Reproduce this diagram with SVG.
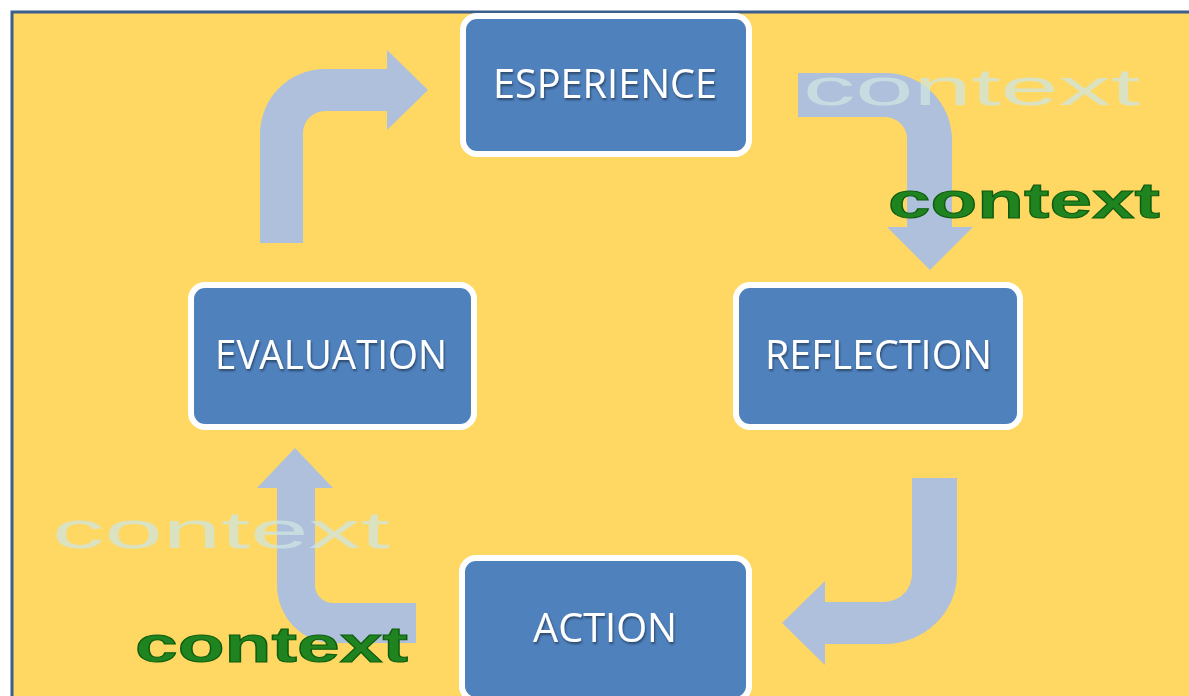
<svg xmlns="http://www.w3.org/2000/svg" width="1189" height="696" viewBox="0 0 1189 696">
<defs>
<style>
.node rect{fill:#4f81bd;stroke:#ffffff;stroke-width:6}
.node text{fill:#ffffff;font-family:"Open Sans","Liberation Sans",sans-serif;font-size:41px;text-anchor:start;filter:url(#ts)}
.arrow{fill:#afc0dc}
.ghost{fill:#cfe5e2;fill-opacity:0.75;font-family:"Liberation Sans",Arial,sans-serif;font-size:52px}
.green{fill:#1f831f;stroke:#0d5c0d;stroke-width:1;font-family:"Liberation Sans",Arial,sans-serif;font-weight:bold;font-size:50px}
</style>
<filter id="ts" x="-10%" y="-20%" width="120%" height="150%">
<feDropShadow dx="1" dy="2" stdDeviation="1" flood-color="#000000" flood-opacity="0.45"/>
</filter>
</defs>
<rect x="0" y="0" width="1189" height="696" fill="#ffffff"/>
<rect x="12" y="12" width="1200" height="700" fill="#fed862" stroke="#3b5e8c" stroke-width="3"/>
<g id="connectors">
<path class="arrow" d="M260,243 L260,134 A65,65 0 0 1 325,69 L387,69 L387,50 L428,90 L387,130 L387,111 L325,111 A22,22 0 0 0 303,133 L303,243 Z"/>
<path class="arrow" d="M798,73 L885,73 A67,67 0 0 1 952,140 L952,227 L973,227 L930,270 L887,227 L907,227 L907,139 A22,22 0 0 0 885,117 L798,117 Z"/>
<path class="arrow" d="M912,478 L957,478 L957,574 A73,70 0 0 1 884,644 L825,644 L825,665 L782,623 L825,581 L825,602 L884,602 A28,28 0 0 0 912,574 Z"/>
<path class="arrow" d="M315,488 L333,488 L295,448 L257,488 L277,488 L277,585 A56,58 0 0 0 333,643 L416,643 L416,603 L333,603 A18,18 0 0 1 315,585 Z"/>
</g>
<g id="labels">
<text class="ghost" x="803" y="105" textLength="337" lengthAdjust="spacingAndGlyphs">context</text>
<text class="green" x="888" y="218" textLength="272" lengthAdjust="spacingAndGlyphs">context</text>
<text class="ghost" x="52" y="548" textLength="338" lengthAdjust="spacingAndGlyphs">context</text>
<text class="green" x="135" y="662" textLength="273" lengthAdjust="spacingAndGlyphs">context</text>
</g>
<g id="node-esperience" class="node">
<rect x="463" y="16" width="286" height="138" rx="14"/>
<text x="493" y="98" textLength="224" lengthAdjust="spacingAndGlyphs">ESPERIENCE</text>
</g>
<g id="node-evaluation" class="node">
<rect x="191" y="285" width="283" height="142" rx="14"/>
<text x="215" y="369" textLength="232" lengthAdjust="spacingAndGlyphs">EVALUATION</text>
</g>
<g id="node-reflection" class="node">
<rect x="736" y="285" width="284" height="142" rx="14"/>
<text x="765" y="369" textLength="227" lengthAdjust="spacingAndGlyphs">REFLECTION</text>
</g>
<g id="node-action" class="node">
<rect x="462" y="558" width="287" height="142" rx="14"/>
<text x="533" y="642" textLength="144" lengthAdjust="spacingAndGlyphs">ACTION</text>
</g>
</svg>
